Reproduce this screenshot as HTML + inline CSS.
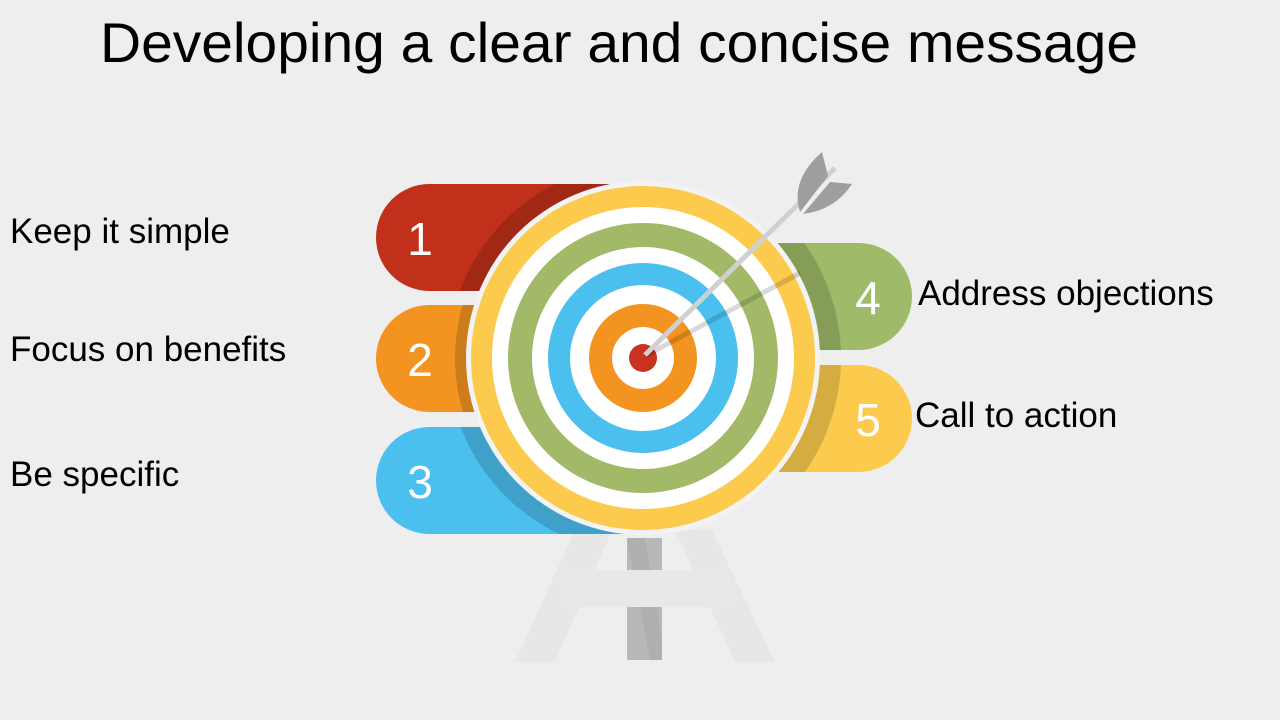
<!DOCTYPE html>
<html><head><meta charset="utf-8"><style>
html,body{margin:0;padding:0;background:#efeeef;}
svg{display:block}
</style></head><body>
<svg width="1280" height="720" viewBox="0 0 1280 720" xmlns="http://www.w3.org/2000/svg">
<rect width="1280" height="720" fill="#efeeef"/>
<text x="619" y="62" text-anchor="middle" font-family="Liberation Sans, sans-serif" font-size="56" textLength="1038" lengthAdjust="spacingAndGlyphs" fill="#000">Developing a clear and concise message</text>
<!-- stand -->
<polygon points="575,530 612,530 555,662 515,662" fill="#e8e7e8"/>
<polygon points="675,530 712,530 775,662 735,662" fill="#e8e7e8"/>
<rect x="627" y="538" width="35" height="122" fill="#b8b8b8"/>
<polygon points="627,538 645,538 662,640 662,660 650,660" fill="#a8a8a8" opacity="0.6"/>
<rect x="560" y="570" width="170" height="37" fill="#e9e8e9"/>
<defs>
<clipPath id="c1"><rect x="376" y="184" width="300" height="107" rx="53.5"/></clipPath>
<clipPath id="c2"><rect x="376" y="305" width="300" height="107" rx="53.5"/></clipPath>
<clipPath id="c3"><rect x="376" y="427" width="300" height="107" rx="53.5"/></clipPath>
<clipPath id="c4"><rect x="612" y="243" width="300" height="107" rx="53.5"/></clipPath>
<clipPath id="c5"><rect x="612" y="365" width="300" height="107" rx="53.5"/></clipPath>
</defs>
<rect x="376" y="184" width="300" height="107" rx="53.5" fill="#c0301a"/>
<rect x="376" y="305" width="300" height="107" rx="53.5" fill="#f39320"/>
<rect x="376" y="427" width="300" height="107" rx="53.5" fill="#4bbfee"/>
<rect x="612" y="243" width="300" height="107" rx="53.5" fill="#9fba68"/>
<rect x="612" y="365" width="300" height="107" rx="53.5" fill="#fccb4e"/>
<g fill="#000" opacity="0.15">
<circle cx="643" cy="358" r="195" clip-path="url(#c1)"/>
<circle cx="643" cy="358" r="188" clip-path="url(#c2)"/>
<circle cx="643" cy="358" r="195" clip-path="url(#c3)"/>
<circle cx="643" cy="358" r="198" clip-path="url(#c4)"/>
<circle cx="643" cy="358" r="198" clip-path="url(#c5)"/>
</g>
<!-- target -->
<circle cx="643" cy="358" r="177" fill="#f4f3f4"/>
<circle cx="643" cy="358" r="172" fill="#fccb4e"/>
<circle cx="643" cy="358" r="151" fill="#fff"/>
<circle cx="643" cy="358" r="135" fill="#a2ba67"/>
<circle cx="643" cy="358" r="111" fill="#fff"/>
<circle cx="643" cy="358" r="95" fill="#4bbfee"/>
<circle cx="643" cy="358" r="73" fill="#fff"/>
<circle cx="643" cy="358" r="54" fill="#f39320"/>
<circle cx="643" cy="358" r="31" fill="#fff"/>
<circle cx="643" cy="358" r="14" fill="#c8321e"/>
<!-- arrow shadow -->
<line x1="645" y1="356" x2="800" y2="273" stroke="#000" stroke-opacity="0.15" stroke-width="5"/>
<!-- arrow -->
<line x1="645" y1="355" x2="835" y2="168" stroke="#d0d0d0" stroke-width="5"/>
<path d="M800,212 L828,176 L822,152 Q790,180 800,212Z" fill="#9d9ea0"/>
<path d="M803,214 L830,182 L852,184 Q835,210 803,214Z" fill="#9d9ea0"/>
<!-- numbers -->
<g font-family="Liberation Sans, sans-serif" font-size="46" fill="#fff" text-anchor="middle">
<text x="420" y="255">1</text>
<text x="420" y="376">2</text>
<text x="420" y="498">3</text>
<text x="868" y="314">4</text>
<text x="868" y="436">5</text>
</g>
<g font-family="Liberation Sans, sans-serif" font-size="35" fill="#000">
<text x="10" y="243">Keep it simple</text>
<text x="10" y="361">Focus on benefits</text>
<text x="10" y="486">Be specific</text>
<text x="918" y="305">Address objections</text>
<text x="915" y="427">Call to action</text>
</g>
</svg>
</body></html>
